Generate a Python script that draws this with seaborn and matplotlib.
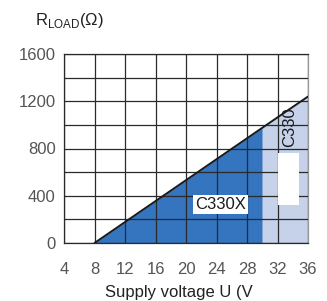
import numpy as np
import matplotlib
matplotlib.use("Agg")
import matplotlib.pyplot as plt
import seaborn as sns
from matplotlib.patches import Rectangle

# boundary line: max load resistance vs supply voltage
voltage = [8, 30, 36]
r_load = [0, 975, 1240]
# C330X region ends at 30 V, C330 region covers 30..36 V
split_voltage = 30
gap_box = (32, 320, 2.8, 440)  # x, y, width, height of the white notch

x_ticks = [4, 8, 12, 16, 20, 24, 28, 32, 36]
y_ticks = [0, 400, 800, 1200, 1600]

sns.set_style("white")
plt.rcParams["font.family"] = ["Liberation Sans", "DejaVu Sans"]
plt.rcParams["mathtext.fontset"] = "custom"
plt.rcParams["mathtext.rm"] = "Liberation Sans"

dark_blue = "#3574bf"
light_blue = "#c6d1ea"

fig = plt.figure(figsize=(3.27, 3.01), dpi=100)
ax = fig.add_axes([64 / 327, 58 / 301, 244 / 327, 189 / 301])

v = np.array(voltage)
r = np.array(r_load)
left = v <= split_voltage
right = v >= split_voltage
ax.fill_between(v[left], 0, r[left], color=dark_blue, lw=0, zorder=0.5)
ax.fill_between(v[right], 0, r[right], color=light_blue, lw=0, zorder=0.5)
sns.lineplot(x=voltage, y=r_load, ax=ax, color="#1a1a1a", lw=1.4, zorder=3)

ax.add_patch(Rectangle(gap_box[:2], gap_box[2], gap_box[3], color="white", lw=0, zorder=3))

ax.set_xlim(4, 36)
ax.set_ylim(0, 1600)
ax.set_xticks(x_ticks)
ax.set_yticks(y_ticks)
ax.set_xticks(np.arange(4, 37, 4), minor=False)
ax.set_yticks(np.arange(0, 1601, 200), minor=True)
ax.set_axisbelow(False)
ax.grid(True, which="both", color="#2a2a2a", lw=0.9, zorder=2.5)
ax.tick_params(axis="both", length=0, labelsize=12, labelcolor="#555555")
ax.tick_params(axis="x", pad=14)
ax.tick_params(axis="y", pad=6)
for s in ax.spines.values():
    s.set_color("#2a2a2a")
    s.set_linewidth(0.9)
ax.spines["right"].set_color("#999999")

ax.text(24.5, 322, "C330X", fontsize=12, color="#1a1a1a", ha="center", va="center",
        zorder=4, bbox=dict(facecolor="white", edgecolor="none", pad=1.5))
ax.text(33.6, 985, "C330", fontsize=12, color="#1a1a1a", rotation=90,
        ha="center", va="center", zorder=4)

fig.text(35 / 327, 1 - 20 / 301, r"R$_{\rm LOAD}$(Ω)", fontsize=12, color="#222222",
         ha="left", va="center")
fig.text(105 / 327, 1 - 292 / 301, "Supply voltage U (V", fontsize=12, color="#222222",
         ha="left", va="center")

fig.savefig("out.png", dpi=100)
